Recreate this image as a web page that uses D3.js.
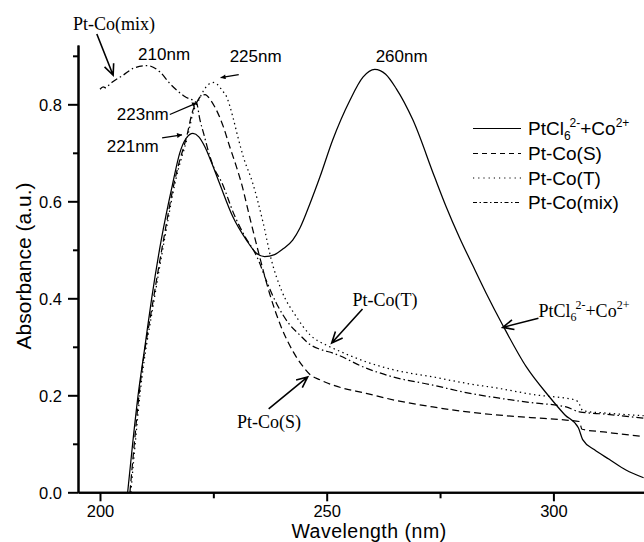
<!DOCTYPE html>
<html>
<head>
<meta charset="utf-8">
<script src="https://cdn.jsdelivr.net/npm/d3@7/dist/d3.min.js"></script>
<style>
  html, body { margin: 0; padding: 0; background: #fff; }
  svg { display: block; }
</style>
</head>
<body>
<svg id="chart" width="644" height="542"></svg>
<script>
// ---------------- DATA ----------------
const seriesNames = ["PtCl6+Co", "Pt-Co(S)", "Pt-Co(T)", "Pt-Co(mix)"];

const solidX = [206.1, 207.2, 208.4, 209.9, 211.4, 213.5, 216.0, 217.6, 219.0, 220.5, 221.8, 223.1, 224.6, 226.4, 229.3, 232.3, 234.5, 236.3, 238.5, 240.4, 242.5, 244.1, 246.3, 248.5, 251.3, 255.1, 258.0, 260.6, 263.0, 265.3, 269.0, 273.8, 276.3, 279.3, 282.2, 285.2, 288.8, 294.0, 299.1, 302.5, 305.5, 306.5, 309.0, 312.3, 316.0, 319.9];
const solidY = [0.000, 0.100, 0.200, 0.300, 0.400, 0.520, 0.635, 0.700, 0.730, 0.740, 0.733, 0.713, 0.680, 0.636, 0.568, 0.520, 0.493, 0.486, 0.490, 0.502, 0.520, 0.545, 0.595, 0.650, 0.726, 0.808, 0.856, 0.872, 0.862, 0.833, 0.768, 0.650, 0.590, 0.525, 0.468, 0.410, 0.345, 0.259, 0.197, 0.160, 0.133, 0.108, 0.088, 0.068, 0.046, 0.030];

const sX = [206.6, 207.3, 208.6, 211.8, 214.0, 216.5, 217.2, 219.1, 220.5, 221.4, 222.4, 223.2, 224.3, 225.3, 227.2, 228.6, 230.1, 231.2, 233.0, 235.2, 237.4, 240.0, 242.6, 244.8, 246.3, 248.5, 251.4, 258.7, 265.0, 273.4, 280.0, 288.1, 295.0, 302.8, 305.7, 306.3, 311.6, 315.0, 319.9];
const sY = [0.000, 0.073, 0.200, 0.400, 0.520, 0.644, 0.671, 0.733, 0.788, 0.805, 0.818, 0.820, 0.810, 0.795, 0.754, 0.713, 0.671, 0.637, 0.568, 0.486, 0.410, 0.340, 0.290, 0.259, 0.243, 0.232, 0.221, 0.204, 0.190, 0.176, 0.167, 0.159, 0.154, 0.149, 0.146, 0.130, 0.124, 0.120, 0.115];

const tX = [206.8, 207.5, 208.8, 212.0, 214.2, 216.7, 219.3, 220.7, 221.6, 222.7, 223.8, 225.0, 226.0, 227.0, 227.9, 229.3, 230.4, 231.6, 233.7, 236.0, 237.8, 240.0, 243.3, 246.3, 250.0, 251.4, 258.7, 265.0, 273.4, 280.0, 288.1, 296.0, 305.0, 305.7, 306.5, 312.0, 319.9];
const tY = [0.000, 0.073, 0.200, 0.400, 0.520, 0.644, 0.733, 0.788, 0.805, 0.826, 0.840, 0.845, 0.840, 0.828, 0.816, 0.774, 0.733, 0.692, 0.637, 0.555, 0.479, 0.417, 0.362, 0.325, 0.303, 0.297, 0.269, 0.252, 0.238, 0.226, 0.214, 0.201, 0.190, 0.182, 0.168, 0.163, 0.158];

const mixX = [200.0, 200.7, 201.3, 201.9, 202.9, 205.1, 207.3, 210.3, 213.2, 215.4, 218.7, 221.3, 222.0, 223.0, 224.0, 225.0, 226.8, 229.7, 232.0, 233.8, 234.6, 236.7, 238.9, 241.9, 244.0, 246.3, 248.5, 251.4, 258.7, 265.0, 273.4, 280.0, 288.1, 295.0, 302.8, 305.7, 311.6, 319.9];
const mixY = [0.831, 0.836, 0.834, 0.839, 0.847, 0.860, 0.874, 0.880, 0.867, 0.843, 0.816, 0.803, 0.770, 0.735, 0.700, 0.672, 0.640, 0.570, 0.527, 0.500, 0.486, 0.436, 0.390, 0.345, 0.325, 0.305, 0.295, 0.287, 0.256, 0.237, 0.221, 0.207, 0.194, 0.185, 0.176, 0.166, 0.161, 0.153];

const xMajorTicks = [200, 250, 300];
const xMinorTicks = [225, 275];
const yMajorTicks = [0.0, 0.2, 0.4, 0.6, 0.8];
const yMinorTicks = [0.1, 0.3, 0.5, 0.7, 0.9];

// peak labels [text, x, y] in data units
const peakLabels = [["210nm", 208.4, 0.891], ["225nm", 228.6, 0.887], ["223nm", 203.7, 0.767], ["221nm", 201.5, 0.702], ["260nm", 260.8, 0.887]];
// small filled arrows [x1, y1, x2, y2]
const peakArrows = [[230.6, 0.861, 226.6, 0.855], [215.4, 0.779, 221.4, 0.803], [213.7, 0.731, 218.1, 0.737]];
// open arrows for series callouts [x1, y1, x2, y2]
const calloutArrows = [[199.3, 0.945, 202.9, 0.860], [257.9, 0.378, 251.1, 0.308], [296.7, 0.359, 288.8, 0.340], [237.2, 0.172, 245.8, 0.238]];

// ---------------- LAYOUT ----------------
const svg = d3.select("#chart");
const X0 = 78, X1 = 644, Y0 = 492.3, Y1 = 45;
const x = d3.scaleLinear().domain([195.15, 319.98]).range([X0, X1]);
const y = d3.scaleLinear().domain([0, 0.9223]).range([Y0, Y1]);

const sans = "'Liberation Sans', Arial, Helvetica, sans-serif";
const serif = "'Liberation Serif', 'Times New Roman', serif";

// clip
svg.append("defs").append("clipPath").attr("id", "clip")
  .append("rect").attr("x", X0).attr("y", 0).attr("width", X1 - X0).attr("height", Y0);

const defs = svg.select("defs");
defs.append("marker").attr("id", "fa").attr("viewBox", "0 0 10 10")
  .attr("refX", 10).attr("refY", 5).attr("markerWidth", 7).attr("markerHeight", 5)
  .attr("markerUnits", "userSpaceOnUse").attr("orient", "auto")
  .append("path").attr("d", "M0,0 L10,5 L0,10 Z").attr("fill", "#000");

// curves
const line = d3.line().x(d => x(d[0])).y(d => y(d[1])).curve(d3.curveMonotoneX);
const series = [
  { xs: solidX, ys: solidY, dash: null },
  { xs: sX, ys: sY, dash: "7,4" },
  { xs: tX, ys: tY, dash: "1.4,3.4" },
  { xs: mixX, ys: mixY, dash: "7,3,1.5,3" }
];
const gCurves = svg.append("g").attr("clip-path", "url(#clip)");
series.forEach(s => {
  gCurves.append("path")
    .attr("d", line(s.xs.map((v, i) => [v, s.ys[i]])))
    .attr("fill", "none").attr("stroke", "#000").attr("stroke-width", 1.25)
    .attr("stroke-dasharray", s.dash);
});

// axes
const xAxis = svg.append("g").attr("transform", `translate(0,${Y0})`)
  .call(d3.axisBottom(x).tickValues(xMajorTicks).tickSize(9).tickSizeOuter(0).tickFormat(d3.format("d")));
const xMinor = svg.append("g").attr("transform", `translate(0,${Y0})`)
  .call(d3.axisBottom(x).tickValues(xMinorTicks).tickSize(6).tickSizeOuter(0).tickFormat(""));
const yAxis = svg.append("g").attr("transform", `translate(${X0},0)`)
  .call(d3.axisLeft(y).tickValues(yMajorTicks).tickSize(10).tickSizeOuter(0).tickPadding(6).tickFormat(d3.format(".1f")));
const yMinor = svg.append("g").attr("transform", `translate(${X0},0)`)
  .call(d3.axisLeft(y).tickValues(yMinorTicks).tickSize(5).tickSizeOuter(0).tickFormat(""));

[xAxis, xMinor, yAxis, yMinor].forEach(g => {
  g.select(".domain").attr("stroke", "#000").attr("stroke-width", 2);
  g.selectAll(".tick line").attr("stroke", "#000").attr("stroke-width", 2);
  g.selectAll("text").attr("font-family", sans).attr("font-size", "16.5px").attr("fill", "#000");
});
xAxis.selectAll(".tick text").attr("dy", null).attr("y", 24.7);
yAxis.selectAll(".tick text").attr("dy", null).attr("y", 6);

// axis titles
svg.append("text").attr("x", 369).attr("y", 538.1).attr("text-anchor", "middle")
  .attr("font-family", sans).attr("font-size", "19.5px").attr("letter-spacing", "0.5px").text("Wavelength (nm)");
svg.append("text").attr("transform", "translate(31,266) rotate(-90)").attr("text-anchor", "middle")
  .attr("font-family", sans).attr("font-size", "21px").text("Absorbance (a.u.)");

// legend
const legendDash = [null, "5,4", "1.2,4", "4,2.5,1.5,2.5"];
const legendY = [128.5, 153.5, 178, 202.5];
legendY.forEach((ly, i) => {
  svg.append("line").attr("x1", 473).attr("x2", 521).attr("y1", ly).attr("y2", ly)
    .attr("stroke", "#000").attr("stroke-width", 1.2).attr("stroke-dasharray", legendDash[i]);
  const t = svg.append("text").attr("x", 528).attr("y", ly + 6.5)
    .attr("font-family", sans).attr("font-size", "19px");
  if (i === 0) {
    t.append("tspan").text("PtCl");
    t.append("tspan").attr("font-size", "12px").attr("dy", 5).text("6");
    t.append("tspan").attr("font-size", "12px").attr("dy", -13).attr("dx", -1).text("2-");
    t.append("tspan").attr("dy", 8).text("+Co");
    t.append("tspan").attr("font-size", "12px").attr("dy", -8).text("2+");
  } else {
    t.text(seriesNames[i]);
  }
});

// peak labels
peakLabels.forEach(p => {
  svg.append("text").attr("x", x(p[1])).attr("y", y(p[2]))
    .attr("font-family", sans).attr("font-size", "17px").text(p[0]);
});
peakArrows.forEach(a => {
  svg.append("line").attr("x1", x(a[0])).attr("y1", y(a[1])).attr("x2", x(a[2])).attr("y2", y(a[3]))
    .attr("stroke", "#000").attr("stroke-width", 1.3).attr("marker-end", "url(#fa)");
});

// callout labels (serif)
function serifLabel(xv, yv, parts) {
  const t = svg.append("text").attr("x", x(xv)).attr("y", y(yv))
    .attr("font-family", serif).attr("font-size", "18px");
  parts.forEach(p => {
    const s = t.append("tspan").text(p.t);
    if (p.fs) s.attr("font-size", p.fs);
    if (p.dy) s.attr("dy", p.dy);
    if (p.dx) s.attr("dx", p.dx);
  });
}
serifLabel(194.05, 0.953, [{ t: "Pt-Co(mix)" }]);
serifLabel(255.7, 0.384, [{ t: "Pt-Co(T)" }]);
serifLabel(230.2, 0.1326, [{ t: "Pt-Co(S)" }]);
serifLabel(296.7, 0.3614, [{ t: "PtCl" }, { t: "6", fs: "12px", dy: 4 }, { t: "2-", fs: "12px", dy: -12, dx: -1 }, { t: "+Co", dy: 8 }, { t: "2+", fs: "12px", dy: -8 }]);

// open arrows
calloutArrows.forEach(a => {
  const x1 = x(a[0]), y1 = y(a[1]), x2 = x(a[2]), y2 = y(a[3]);
  const ang = Math.atan2(y2 - y1, x2 - x1);
  const L = 12, w = 0.42;
  svg.append("path")
    .attr("d", `M${x1},${y1} L${x2},${y2} M${x2 - L * Math.cos(ang - w)},${y2 - L * Math.sin(ang - w)} L${x2},${y2} L${x2 - L * Math.cos(ang + w)},${y2 - L * Math.sin(ang + w)}`)
    .attr("fill", "none").attr("stroke", "#000").attr("stroke-width", 1.6);
});
</script>
</body>
</html>
